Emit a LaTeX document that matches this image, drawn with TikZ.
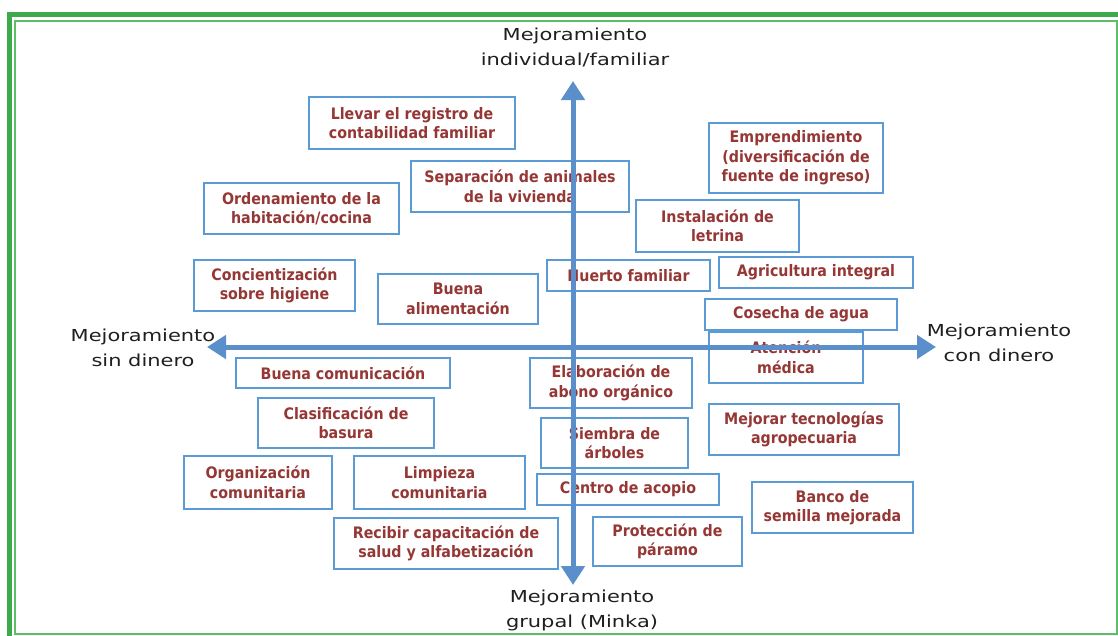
\documentclass[tikz,border=0pt]{standalone}
\usepackage{fontspec}
\usetikzlibrary{arrows.meta}
\newfontfamily\boxfont[FakeStretch=0.9]{DejaVu Sans}
\newfontfamily\axfont[FakeStretch=1.27]{DejaVu Sans}
\definecolor{boxred}{HTML}{953735}
\definecolor{boxblue}{HTML}{5B9BD5}
\definecolor{axblue}{HTML}{5B8FCB}
\definecolor{gthick}{HTML}{3DAA4B}
\definecolor{gthin}{HTML}{5CBF66}
\newcommand\bxnode[6]{\node[bx, minimum width={#4pt-#2pt}, minimum height={#5pt-#3pt}] (#1) at ({(#2+#4)/2},{(#3+#5)/2}) {#6};}
\tikzset{
  bx/.style={draw=boxblue, line width=1.6pt, fill=white, text=boxred, align=center, inner sep=0pt,
    font=\boxfont\bfseries\fontsize{15.8}{19.5}\selectfont},
  axisarrow/.style={draw=axblue, line width=5pt, {Triangle[width=23pt,length=19pt]}-{Triangle[width=23pt,length=19pt]}},
  axlabel/.style={align=center, inner sep=0pt, text=black!88, font=\axfont\fontsize{16.5}{25}\selectfont},
  frthick/.style={draw=gthick, line width=4.6pt},
  frthin/.style={draw=gthin, line width=1.8pt}
}
\begin{document}
\begin{tikzpicture}[x=1pt, y=-1pt]
\useasboundingbox (0,0) rectangle (1118,635);
% frame
\draw[frthick] (9.7,640) -- (9.7,14.3) -- (1122,14.3);
\draw[frthin] (15.3,21) rectangle (1117.2,633.8);
% boxes
\bxnode{reg}{309}{97}{515}{149}{Llevar el registro de\\contabilidad familiar}
\bxnode{sep}{411}{161}{629}{212}{Separación de animales\\de la vivienda}
\bxnode{ord}{204}{183}{399}{234}{Ordenamiento de la\\habitación/cocina}
\bxnode{emp}{709}{123}{883}{193}{Emprendimiento\\(diversificación de\\fuente de ingreso)}
\bxnode{let}{636}{200}{799}{252}{Instalación de\\letrina}
\bxnode{hue}{547}{260}{710}{291}{Huerto familiar}
\bxnode{agr}{719}{257}{913}{288}{Agricultura integral}
\bxnode{cos}{705}{299}{897}{330}{Cosecha de agua}
\bxnode{con}{194}{260}{355}{311}{Concientización\\sobre higiene}
\bxnode{ali}{378}{274}{538}{324}{Buena\\alimentación}
\bxnode{com}{236}{358}{450}{388}{Buena comunicación}
\bxnode{cla}{258}{398}{434}{448}{Clasificación de\\basura}
\bxnode{ate}{709}{332}{863}{383}{Atención\\médica}
\bxnode{abo}{530}{358}{692}{408}{Elaboración de\\abono orgánico}
\bxnode{sie}{541}{418}{688}{468}{Siembra de\\árboles}
\bxnode{tec}{709}{404}{899}{455}{Mejorar tecnologías\\agropecuaria}
\bxnode{aco}{537}{474}{719}{505}{Centro de acopio}
\bxnode{ban}{752}{482}{913}{533}{Banco de\\semilla mejorada}
\bxnode{par}{593}{517}{742}{566}{Protección de\\páramo}
\bxnode{org}{184}{456}{332}{509}{Organización\\comunitaria}
\bxnode{lim}{354}{456}{525}{509}{Limpieza\\comunitaria}
\bxnode{cap}{334}{518}{558}{569}{Recibir capacitación de\\salud y alfabetización}
% axes
\coordinate (ntip) at (573,81);
\coordinate (stip) at (573,585);
\coordinate (wtip) at (207,347);
\coordinate (etip) at (936,347);
\draw[axisarrow] (stip) -- (ntip);
\draw[axisarrow] (wtip) -- (etip);
% axis labels
\node[axlabel] (lbltop) at (575,47) {Mejoramiento\\individual/familiar};
\node[axlabel] (lblleft) at (143,348) {Mejoramiento\\sin dinero};
\node[axlabel] (lblright) at (999,343) {Mejoramiento\\con dinero};
\node[axlabel] (lblbot) at (582,610) {Mejoramiento\\grupal (Minka)};
\end{tikzpicture}
\end{document}
